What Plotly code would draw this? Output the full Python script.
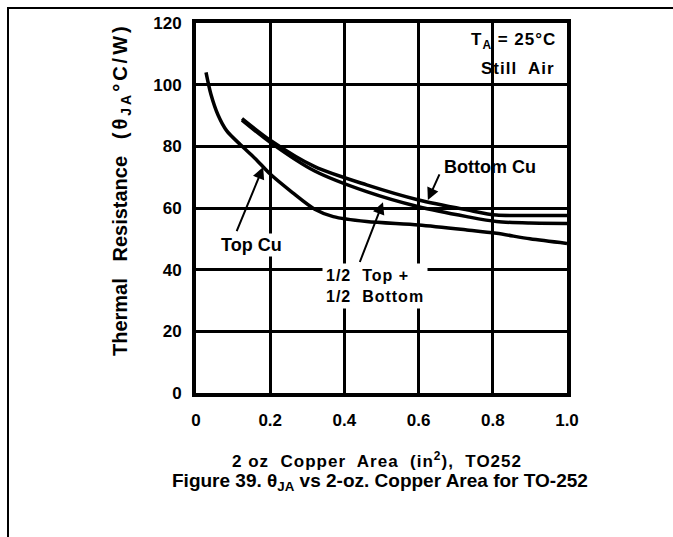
import plotly.graph_objects as go

# Data
top_cu_x = [0.027, 0.04, 0.06, 0.083, 0.12, 0.16, 0.2, 0.26, 0.32, 0.37, 0.46, 0.6, 0.73, 0.81, 0.9, 1.0]
top_cu_y = [104, 97, 90, 85, 80.5, 76, 71, 65, 59.6, 57.2, 55.6, 54.5, 52.9, 51.8, 50.0, 48.5]

bottom_cu_x = [0.124, 0.2, 0.32, 0.46, 0.6, 0.73, 0.81, 0.9, 1.0]
bottom_cu_y = [89, 82, 73.4, 67.5, 62.6, 59.4, 57.7, 57.6, 57.6]

half_x = [0.124, 0.2, 0.32, 0.46, 0.6, 0.73, 0.81, 0.9, 1.0]
half_y = [88.5, 81.3, 72.0, 65.3, 60.4, 57.2, 55.6, 55.1, 55.0]

x_ticks = [0, 0.2, 0.4, 0.6, 0.8, 1.0]
x_tick_labels = ["0", "0.2", "0.4", "0.6", "0.8", "1.0"]
y_ticks = [0, 20, 40, 60, 80, 100, 120]

W, H = 673, 537
L, R, T, B = 196, 106, 23, 144
pw, ph = W - L - R, H - T - B

def px2paper_x(px):
    return (px - L) / pw

def py2paper_y(py):
    return (H - B - py) / ph

fig = go.Figure()
for xs, ys in [(top_cu_x, top_cu_y), (bottom_cu_x, bottom_cu_y), (half_x, half_y)]:
    fig.add_trace(go.Scatter(x=xs, y=ys, mode="lines",
                             line=dict(color="black", width=3.5, shape="spline", smoothing=0.8),
                             showlegend=False, hoverinfo="skip"))

FM = "Liberation Sans, Arial, sans-serif"

def ls(text, px):
    return '<span style="letter-spacing:%spx">%s</span>' % (px, text)

annotations = [
    dict(x=0.625, y=62.6, ax=0.658, ay=71.4, axref="x", ayref="y", xref="x", yref="y",
         text="", showarrow=True, arrowhead=2, arrowsize=1.2, arrowwidth=2, arrowcolor="black"),
    dict(x=0.792, y=73.3, xref="x", yref="y", text="<b>Bottom Cu</b>", showarrow=False,
         xanchor="center", yanchor="middle", font=dict(size=18, color="black", family=FM)),
    dict(x=0.181, y=73.3, ax=0.108, ay=52.0, axref="x", ayref="y", xref="x", yref="y",
         text="", showarrow=True, arrowhead=2, arrowsize=1.2, arrowwidth=2, arrowcolor="black"),
    dict(x=0.150, y=48.0, xref="x", yref="y", text="<b>Top Cu</b>", showarrow=False,
         xanchor="center", yanchor="middle", bgcolor="white",
         font=dict(size=18, color="black", family=FM)),
    dict(x=0.504, y=61.9, ax=0.44, ay=42.0, axref="x", ayref="y", xref="x", yref="y",
         text="", showarrow=True, arrowhead=2, arrowsize=1.2, arrowwidth=2, arrowcolor="black"),
    dict(x=px2paper_x(322), y=py2paper_y(286), xref="paper", yref="paper",
         text="<b>" + ls("1/2  Top +", 1) + "<br>" + ls("1/2  Bottom", 1) + "</b>",
         showarrow=False, align="left",
         xanchor="left", yanchor="middle", bgcolor="white", borderpad=3,
         font=dict(size=16, color="black", family=FM)),
    dict(x=px2paper_x(558), y=py2paper_y(41), xref="paper", yref="paper",
         text="<b>" + ls("T<sub>A</sub> = 25°C", 1) + "</b>", showarrow=False,
         xanchor="right", yanchor="middle", font=dict(size=17, color="black", family=FM)),
    dict(x=px2paper_x(557), y=py2paper_y(69), xref="paper", yref="paper",
         text="<b>" + ls("Still  Air", 1) + "</b>", showarrow=False,
         xanchor="right", yanchor="middle", font=dict(size=17, color="black", family=FM)),
    dict(x=px2paper_x(377), y=py2paper_y(460), xref="paper", yref="paper",
         text="<b>" + ls("2 oz  Copper  Area  (in<sup>2</sup>),  TO252", 1) + "</b>", showarrow=False,
         xanchor="center", yanchor="middle", font=dict(size=17, color="black", family=FM)),
    dict(x=px2paper_x(380), y=py2paper_y(482), xref="paper", yref="paper",
         text="<b>Figure 39. θ<sub>JA</sub> vs 2-oz. Copper Area for TO-252</b>", showarrow=False,
         xanchor="center", yanchor="middle", font=dict(size=19, color="black", family=FM)),
    dict(x=px2paper_x(121), y=py2paper_y(190), xref="paper", yref="paper",
         text="<b>Thermal   Resistance   " + ls("(θ<sub>JA</sub>°C/W)", 3) + "</b>",
         showarrow=False, textangle=-90,
         xanchor="center", yanchor="middle", font=dict(size=20, color="black", family=FM)),
]

shapes = [
    dict(type="rect", xref="paper", yref="paper", x0=px2paper_x(8), x1=px2paper_x(700),
         y0=py2paper_y(8), y1=py2paper_y(560), line=dict(color="black", width=2),
         fillcolor="rgba(0,0,0,0)", layer="above"),
]

tickfont = dict(size=17, color="black", family=FM, weight="bold")

fig.update_layout(
    width=W, height=H,
    margin=dict(l=L, r=R, t=T, b=B),
    paper_bgcolor="white", plot_bgcolor="white",
    annotations=annotations, shapes=shapes,
    xaxis=dict(range=[0, 1.0], tickvals=x_ticks, ticktext=x_tick_labels,
               showgrid=True, gridcolor="black", gridwidth=2.5,
               showline=True, linecolor="black", linewidth=4, mirror=True,
               ticks="", zeroline=False, ticklabelstandoff=9,
               tickfont=tickfont),
    yaxis=dict(range=[0, 120], tickvals=y_ticks,
               showgrid=True, gridcolor="black", gridwidth=2.5,
               showline=True, linecolor="black", linewidth=4, mirror=True,
               ticks="", zeroline=False, ticklabelstandoff=7,
               tickfont=tickfont),
)

fig.write_html("out.html", config={"displayModeBar": False},
               post_script="document.body.style.margin='0px';")
